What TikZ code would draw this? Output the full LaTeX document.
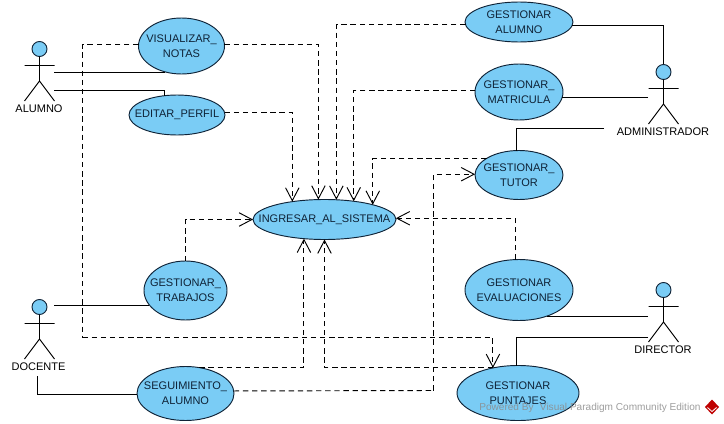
\documentclass[tikz,border=0pt]{standalone}
\usepackage{fontspec}
\setmainfont{Liberation Sans}
\usetikzlibrary{arrows.meta,shapes.geometric}
\definecolor{ucfill}{RGB}{122,204,245}
\definecolor{ucline}{RGB}{15,35,55}
\begin{document}
\begin{tikzpicture}[x={(0.03cm,0cm)},y={(0cm,-0.03cm)},line width=0.8pt,
  every node/.style={font=\fontsize{9.4pt}{12.8pt}\selectfont, outer sep=0pt},
  usecase/.style 2 args={ellipse,draw=ucline,fill=ucfill,inner sep=-60pt,align=center,text=ucline,minimum width=#1*0.03cm,minimum height=#2*0.03cm},
  head/.style={circle,draw=ucline,fill=ucfill,minimum size=15*0.03cm,inner sep=0pt},
  actorname/.style={inner sep=0pt},
  dep/.style={dash pattern=on 4.6pt off 3.2pt,-{Straight Barb[length=11pt,width=11.5pt]}},
  depline/.style={dash pattern=on 4.6pt off 3.2pt}]
\useasboundingbox (0,0) rectangle (724,424);
\node[usecase={86}{56}] (visualizar) at (181.5,46) {VISUALIZAR\_\\NOTAS};
\node[usecase={96}{40}] (editar) at (177,115) {EDITAR\_PERFIL};
\node[usecase={143}{40}] (ingresar) at (324.5,219.5) {INGRESAR\_AL\_SISTEMA};
\node[usecase={108}{40}] (galumno) at (519,22) {GESTIONAR\\ALUMNO};
\node[usecase={88}{56}] (matricula) at (519,92) {GESTIONAR\_\\MATRICULA};
\node[usecase={88}{49}] (tutor) at (519,175) {GESTIONAR\_\\TUTOR};
\node[usecase={83}{59}] (trabajos) at (185.5,290.5) {GESTIONAR\_\\TRABAJOS};
\node[usecase={97}{54}] (seguimiento) at (185.5,393.5) {SEGUIMIENTO\_\\ALUMNO};
\node[usecase={108}{61}] (evaluaciones) at (519,290) {GESTIONAR\\EVALUACIONES};
\node[usecase={122}{55}] (puntajes) at (518,393) {GESTIONAR\\PUNTAJES};
\node[head] (alumno) at (39.5,49) {};
\draw (alumno.south) -- ++(0,24.5) -- ++(-15,20) ++(15,-20) -- ++(15,20) ++(-15,-35.5) ++(-15,0) -- ++(30,0);
\node[actorname] (alumnolabel) at (39,109) {ALUMNO};
\node[head] (docente) at (39.5,307) {};
\draw (docente.south) -- ++(0,24.5) -- ++(-15,20) ++(15,-20) -- ++(15,20) ++(-15,-35.5) ++(-15,0) -- ++(30,0);
\node[actorname] (docentelabel) at (38.5,367) {DOCENTE};
\node[head] (administrador) at (663.5,72) {};
\draw (administrador.south) -- ++(0,24.5) -- ++(-15,20) ++(15,-20) -- ++(15,20) ++(-15,-35.5) ++(-15,0) -- ++(30,0);
\node[actorname] (administradorlabel) at (663,132) {ADMINISTRADOR};
\node[head] (director) at (663.5,290) {};
\draw (director.south) -- ++(0,24.5) -- ++(-15,20) ++(15,-20) -- ++(15,20) ++(-15,-35.5) ++(-15,0) -- ++(30,0);
\node[actorname] (directorlabel) at (663,350) {DIRECTOR};
\coordinate (alumnoa) at (54,72.5);
\coordinate (alumnob) at (54,90.5);
\coordinate (docentea) at (54,305.5);
\coordinate (docenteb) at (37.5,376);
\coordinate (admina) at (648,97.5);
\coordinate (adminb) at (604,128.5);
\coordinate (directora) at (648,316.5);
\coordinate (directorb) at (648,337.5);
\coordinate (cornera) at (82.5,337.5);
\coordinate (cornerb) at (433.5,390.5);
\draw (alumnoa) -- (alumnoa -| visualizar.238);
\draw (alumnob) -| (editar.122);
\draw (docentea) -- (docentea -| trabajos.202);
\draw (docenteb) |- (seguimiento.181);
\draw (galumno.356) -| (administrador.north);
\draw (admina) -- (admina -| matricula.353);
\draw (adminb) -| (tutor.96);
\draw (directora) -- (directora -| evaluaciones.317);
\draw (directorb) -| (puntajes.93);
\draw[dep] (visualizar.2) -| (ingresar.107.4);
\draw[dep] (editar.3) -| (ingresar.151.5);
\draw[dep] (galumno.183.7) -| (ingresar.59);
\draw[dep] (matricula.178) -| (ingresar.32.8);
\draw[dep] (tutor.153.4) -| (ingresar.17.1);
\draw[dep] (trabajos.north) |- (ingresar.west);
\draw[dep] (evaluaciones.96) |- (ingresar.1.6);
\draw[dep] (seguimiento.62) -| (ingresar.223.5);
\draw[dep] (puntajes.135) -| (ingresar.south);
\draw[depline] (visualizar.178) -| (cornera);
\draw[dep] (cornera) -| (puntajes.135);
\draw[depline] (seguimiento.3.6) -- (cornerb);
\draw[dep] (cornerb) |- (tutor.179);
\node[inner sep=0pt,anchor=east,text=black!45,opacity=0.85,font=\fontsize{8.6pt}{10pt}\selectfont] (watermark) at (700.5,407.5) {Powered By\hspace{3pt} Visual Paradigm Community Edition};
\node[diamond,fill=red!75!black,inner sep=0pt,minimum width=14*0.03cm,minimum height=15*0.03cm] (logo) at (712,407) {};
\draw[white,line width=0.7pt] (logo.west) ++(2.5,0.5) -- ++(4.5,4) -- ++(4.5,-4);
\end{tikzpicture}
\end{document}
